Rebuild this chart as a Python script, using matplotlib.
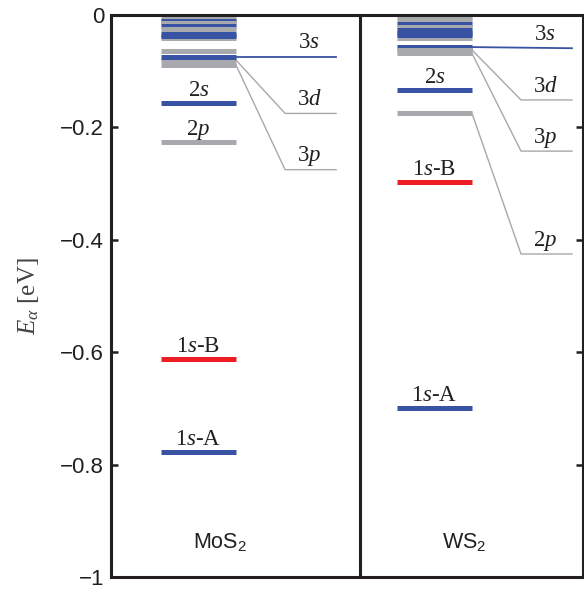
import matplotlib.pyplot as plt

plt.rcParams['mathtext.fontset'] = 'custom'
plt.rcParams['mathtext.rm'] = 'Liberation Serif'
plt.rcParams['mathtext.it'] = 'Liberation Serif:italic'
plt.rcParams['mathtext.sf'] = 'Liberation Sans'

BLUE = '#3953a4'
GRAY = '#a7a9ac'
RED = '#ee1d23'
LINK = '#a8a8a8'
colors = {'s': BLUE, 'p': GRAY, 'B': RED}

# exciton levels (eV), top to bottom
mos2_energies = [-0.005, -0.011, -0.014, -0.0195, -0.025, -0.040, -0.033, -0.038,
                 -0.064, -0.080, -0.074, -0.089, -0.156, -0.226, -0.612, -0.777]
mos2_kinds = ['p', 's', 'p', 's', 'p', 'p', 's', 's',
              'p', 'p', 's', 'p', 's', 'p', 'B', 's']
ws2_energies = [-0.003, -0.009, -0.016, -0.022, -0.026, -0.040, -0.032, -0.036,
                -0.057, -0.062, -0.068, -0.134, -0.1746, -0.297, -0.698]
ws2_kinds = ['p', 'p', 's', 'p', 's', 'p', 's', 's',
             's', 'p', 'p', 's', 'p', 'B', 's']

# labels sitting on the bars
mos2_bar_labels = {'2$s$': -0.156, '2$p$': -0.226, '1$s$-B': -0.612, '1$s$-A': -0.777}
ws2_bar_labels = {'2$s$': -0.134, '1$s$-B': -0.297, '1$s$-A': -0.698}

# labels off to the side: (name, level on bar, label level)
mos2_side = [('3$s$', -0.074, -0.074), ('3$d$', -0.080, -0.175), ('3$p$', -0.089, -0.275)]
ws2_side = [('3$s$', -0.057, -0.059), ('3$d$', -0.062, -0.151),
            ('3$p$', -0.068, -0.242), ('2$p$', -0.1746, -0.425)]

materials = ['MoS$_\\mathsf{2}$', 'WS$_\\mathsf{2}$']

fig = plt.figure(figsize=(5.84, 5.90), dpi=100)
ax = fig.add_axes([0.190, 0.0215, 0.808, 0.953])

bar_x0, bar_x1 = 0.106, 0.265
elbow_x, end_x, side_lab_x = 0.369, 0.477, 0.42


def draw_material(off, energies, kinds, bar_labels, side, name, name_x):
    for e, k in zip(energies, kinds):
        ax.plot([bar_x0 + off, bar_x1 + off], [e, e], color=colors[k], lw=3.6,
                solid_capstyle='butt', zorder=3)
    for lab, e in bar_labels.items():
        ax.annotate(lab, ((bar_x0 + bar_x1) / 2 + off, e), xytext=(0, 5),
                    textcoords='offset points', ha='center', va='baseline',
                    fontsize=16.5, family='Liberation Serif', color='#231f20')
    for lab, e0, e1 in side:
        c, w = (BLUE, 1.3) if lab.endswith('s$') else (LINK, 1.0)
        if lab.endswith('s$'):
            xs, ys = [bar_x1 + off, end_x + off], [e0, e1]
        else:
            xs = [bar_x1 + off, elbow_x + off, end_x + off]
            ys = [e0, e1, e1]
        ax.plot(xs, ys, color=c, lw=w, zorder=2)
        ax.annotate(lab, (side_lab_x + off, e1), xytext=(0, 6),
                    textcoords='offset points', ha='center', va='baseline',
                    fontsize=16.5, family='Liberation Serif', color='#231f20')
    ax.text(name_x, -0.947, name, ha='center', va='baseline', fontsize=15.5,
            family='Liberation Sans', color='#231f20')


draw_material(0.0, mos2_energies, mos2_kinds, mos2_bar_labels, mos2_side,
              materials[0], 0.231)
draw_material(0.5, ws2_energies, ws2_kinds, ws2_bar_labels, ws2_side,
              materials[1], 0.748)

ax.axvline(0.5275, color='#231f20', lw=2.2, zorder=4)

ax.set_xlim(0, 1)
ax.set_ylim(-1, 0)
ax.set_xticks([])
ax.set_yticks([0, -0.2, -0.4, -0.6, -0.8, -1])
ax.set_yticklabels(['0', '\u22120.2', '\u22120.4', '\u22120.6', '\u22120.8', '\u22121'],
                   family='Liberation Sans', fontsize=16, color='#231f20')
ax.tick_params(axis='y', direction='in', length=5, width=1.8, right=True,
               pad=5, color='#231f20')
for s in ax.spines.values():
    s.set_linewidth(2.2)
    s.set_color('#231f20')
    s.set_zorder(5)

ax.set_ylabel('$E_\\alpha$ [eV]', fontsize=18, family='Liberation Serif',
              color='#444444', labelpad=14)

fig.savefig('out.png', dpi=100)
